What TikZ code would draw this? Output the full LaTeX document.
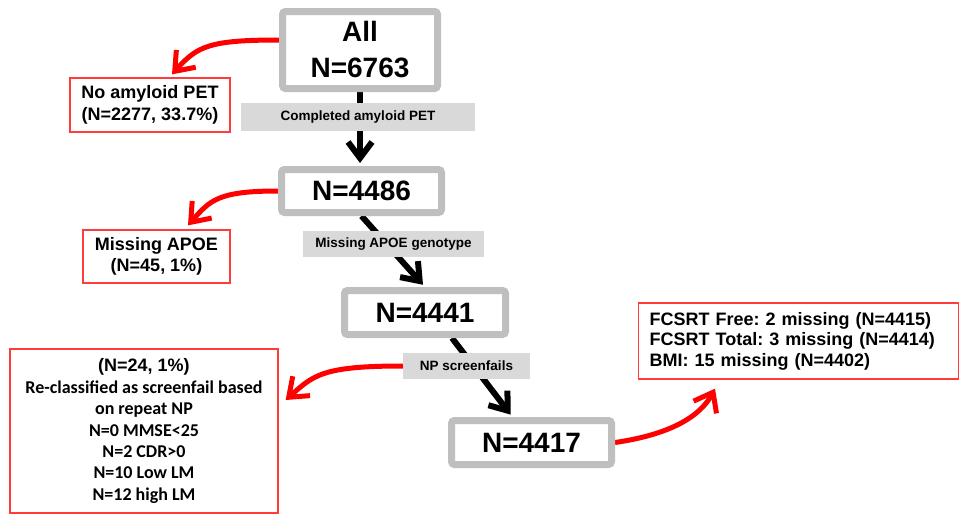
\documentclass[tikz,border=0pt]{standalone}
\usepackage{fontspec}
\setmainfont{Liberation Sans}
\newfontfamily\calib{Carlito}
\usetikzlibrary{arrows.meta,backgrounds}
\definecolor{boxgray}{HTML}{BFBFBF}
\definecolor{labgray}{HTML}{D9D9D9}
\definecolor{exred}{HTML}{FF3B3B}
\definecolor{arrred}{HTML}{FF0000}
\frenchspacing
\begin{document}
\begin{tikzpicture}[x=1pt,y=-1pt,
  mainbox/.style={draw=boxgray, line width=7pt, rounded corners=3pt, fill=white,
    inner sep=0pt, align=center, font=\fontsize{28}{36}\selectfont\bfseries},
  steplabel/.style={fill=labgray, inner sep=0pt, font=\fontsize{13.5}{16}\selectfont\bfseries},
  exbox/.style={draw=exred, line width=1.3pt, fill=white, inner sep=0pt, align=center,
    font=\fontsize{18}{21.5}\selectfont\bfseries},
  flow/.style={line width=6pt, -{Straight Barb[length=16pt,width=24pt]}},
  exarrow/.style={draw=arrred, line width=5pt, -{Straight Barb[length=17pt,width=26pt]}}
]
\useasboundingbox (0,0) rectangle (960,514);

% main boxes
\node[mainbox, minimum width=155, minimum height=77] (all) at (360,50) {All\\N=6763};
\node[mainbox, minimum width=160, minimum height=43] (n1) at (361.5,191) {N=4486};
\node[mainbox, minimum width=161, minimum height=44] (n2) at (425,312.5) {N=4441};
\node[mainbox, minimum width=160, minimum height=44] (n3) at (531.5,442.5) {N=4417};

% exclusion boxes
\node[exbox, minimum width=160, minimum height=54] (x1) at (150,105) {No amyloid PET\\(N=2277, 33.7\%)};
\node[exbox, minimum width=147, minimum height=53] (x2) at (156.5,256.5) {Missing APOE\\(N=45, 1\%)};
\node[exbox, minimum width=268, minimum height=164,
  font=\fontsize{18}{21.4}\selectfont\bfseries] (x3) at (144,431)
  {(N=24, 1\%)\\{\calib Re-classified as screenfail based}\\{\calib on repeat NP}\\{\calib N=0 MMSE<25}\\{\calib N=2 CDR>0}\\{\calib N=10 Low LM}\\{\calib N=12 high LM}};
\node[exbox, anchor=west, text width=298, inner xsep=11pt, minimum height=76, align=left,
  font=\fontsize{18}{20.5}\selectfont\bfseries] (x4) at (638,341)
  {FCSRT Free: 2 missing (N=4415)\\FCSRT Total: 3 missing (N=4414)\\BMI: 15 missing (N=4402)};

% step labels
\node[steplabel, minimum width=234, minimum height=28] (lab1) at (358,117) {Completed amyloid PET};
\node[steplabel, minimum width=181, minimum height=26] (lab2) at (393.5,244) {Missing APOE genotype};
\node[steplabel, minimum width=127, minimum height=26] (lab3) at (466.5,366) {NP screenfails};

\begin{pgfonlayer}{background}
  \draw[flow, shorten >=3pt] (all.south) -- (all.south |- n1.north);
  \draw[flow, shorten >=3pt] (n1.south) -- (n2.north);
  \draw[flow, shorten >=3pt] ([xshift=27pt]n2.south) -- ([xshift=-19pt]n3.north);

  \draw[exarrow] ([yshift=10pt]all.west) .. controls +(-70,0) and +(25,-28) ..
    ([xshift=22pt,yshift=3pt]x1.north);
  \draw[exarrow] (n1.west) .. controls +(-60,0) and +(22,-25) ..
    ([xshift=31.5pt,yshift=4pt]x2.north);
  \draw[exarrow] (lab3.west) .. controls +(-80,0) and +(28,-25) ..
    ([xshift=7pt,yshift=31pt]x3.east);
  \draw[exarrow] (n3.east) .. controls +(55,-8) and +(-15,28) ..
    ([xshift=77pt,yshift=-9pt]x4.south west);
\end{pgfonlayer}
\end{tikzpicture}
\end{document}
